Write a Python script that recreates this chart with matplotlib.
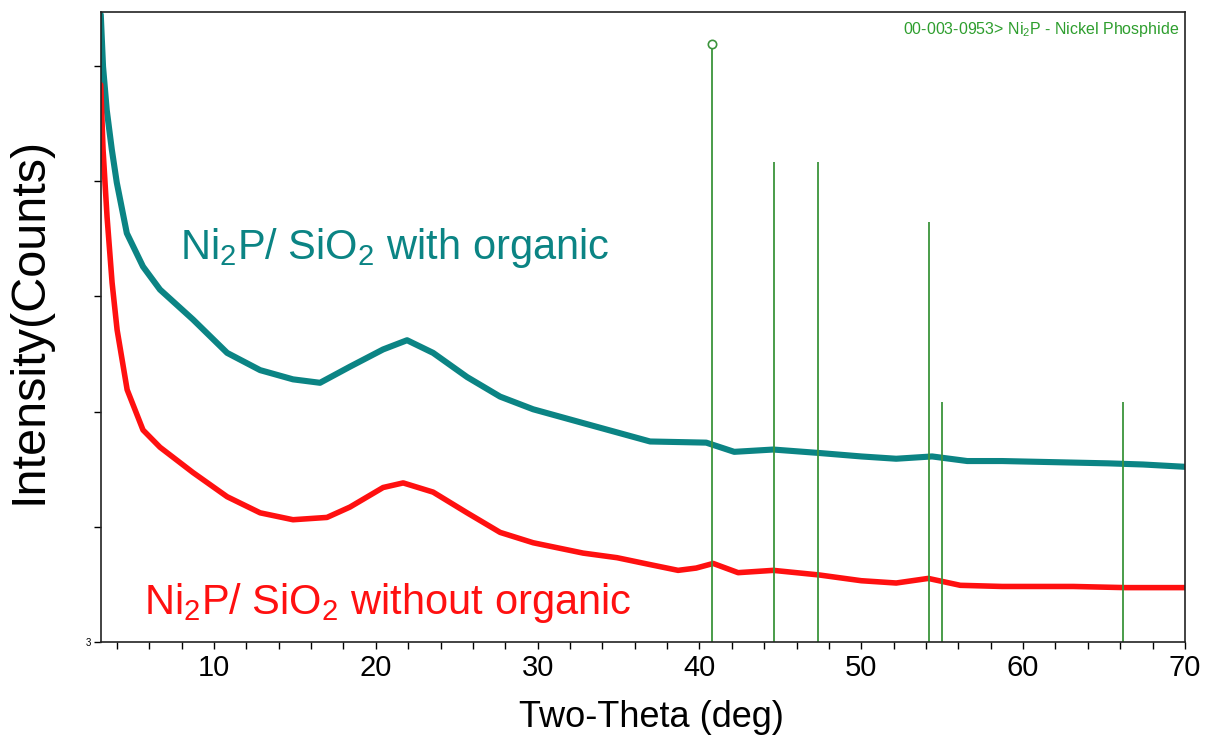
import matplotlib
matplotlib.use('Agg')
import matplotlib.pyplot as plt

plt.rcParams['font.family'] = ['Liberation Sans', 'DejaVu Sans']
plt.rcParams['mathtext.default'] = 'regular'

# Two-theta positions (deg)
theta_org = [3.00, 3.14, 3.37, 3.68, 3.99, 4.61, 5.61, 6.66, 8.70, 10.81, 12.85, 14.88,
             16.55, 18.40, 20.45, 21.93, 23.54, 25.64, 27.68, 29.72, 32.81, 36.95,
             40.42, 42.15, 44.56, 47.40, 50.00, 52.16, 54.38, 56.55, 58.71, 61.99,
             65.26, 67.42, 70.00]
# intensity (arbitrary counts) with organic
int_org = [545, 500, 462, 428, 399, 355, 326, 306, 280, 251, 236, 228,
           225, 239, 254, 262, 251, 230, 213, 202, 190, 174,
           173, 165, 167, 164, 161, 159, 161, 157, 157, 156,
           155, 154, 152]

theta_bare = [3.00, 3.14, 3.39, 3.70, 4.01, 4.63, 5.61, 6.66, 8.70, 10.81, 12.85, 14.88,
              16.98, 18.40, 20.45, 21.69, 23.54, 25.64, 27.68, 29.72, 32.81, 34.91,
              36.95, 38.68, 39.80, 40.85, 42.39, 44.56, 47.40, 50.00, 52.16, 54.14,
              56.12, 58.71, 63.10, 66.31, 70.00]
# intensity without organic
int_bare = [484, 428, 369, 312, 271, 219, 184, 169, 147, 126, 112, 106,
            108, 117, 134, 138, 130, 112, 95, 86, 77, 73,
            67, 62, 64, 68, 60, 62, 58, 53, 51, 55,
            49, 48, 48, 47, 47]

# reference card 00-003-0953 Ni2P
ref_pos = [40.8, 44.6, 47.3, 54.2, 55.0, 66.2]
ref_height = [519, 417, 417, 365, 208, 208]

fig = plt.figure(figsize=(12.14, 7.44), dpi=100)
ax = fig.add_axes([0.083, 0.1375, 0.893, 0.846])

teal = '#0b8484'
red = '#ff1010'
green = '#3c943c'

ax.plot(theta_org, int_org, color=teal, lw=4.4, solid_capstyle='round')
ax.plot(theta_bare, int_bare, color=red, lw=4.0, solid_capstyle='round')

ax.vlines(ref_pos, 0, ref_height, color=green, lw=1.3)
ax.plot(ref_pos[0], ref_height[0], 'o', mfc='white', mec=green, ms=6, mew=1.2)

ax.text(0.995, 0.972, '00-003-0953> Ni$_2$P - Nickel Phosphide', color='#2e9e2e',
        fontsize=11.5, ha='right', va='center', transform=ax.transAxes)

ax.text(7.9, 333, 'Ni$_2$P/ SiO$_2$ with organic', color=teal, fontsize=30)
ax.text(5.7, 24, 'Ni$_2$P/ SiO$_2$ without organic', color=red, fontsize=30)

ax.set_xlim(3, 70)
ax.set_ylim(0, 547)
ax.set_xticks([10, 20, 30, 40, 50, 60, 70])
ax.set_xticks(list(range(4, 70, 2)), minor=True)
ax.set_yticks([0, 100, 200, 300, 400, 500])
ax.set_yticklabels(['3', '', '', '', '', ''])

ax.tick_params(axis='x', which='both', direction='out', length=5, width=1,
               labelsize=21, pad=4)
ax.tick_params(axis='y', direction='out', length=5, width=1, labelsize=7, pad=2)
for s in ax.spines.values():
    s.set_linewidth(1.2)
    s.set_color('#222222')

ax.set_xlabel('Two-Theta (deg)', fontsize=26)
ax.xaxis.set_label_coords(0.508, -0.093)
ax.set_ylabel('Intensity(Counts)', fontsize=35)
ax.yaxis.set_label_coords(-0.045, 0.511)

fig.savefig('out.png', dpi=100)
